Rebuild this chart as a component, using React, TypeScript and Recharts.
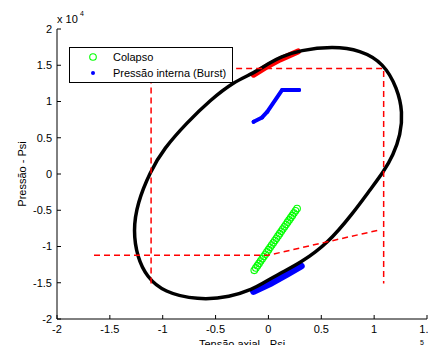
import React from "react";
import { ScatterChart, Scatter, XAxis, YAxis } from "recharts";

const FONT = '"Liberation Sans", Arial, sans-serif';

const xTicks = [-2, -1.5, -1, -0.5, 0, 0.5, 1, 1.5];
const yTicks = [-2, -1.5, -1, -0.5, 0, 0.5, 1, 1.5, 2];

// von Mises envelope (x 1e5 psi axial, x 1e4 psi pressure)
const envelope = [
  { x: -1.12, y: 0.03 }, { x: -0.99, y: 0.35 }, { x: -0.77, y: 0.71 }, { x: -0.55, y: 1.02 },
  { x: -0.33, y: 1.27 }, { x: -0.14, y: 1.39 }, { x: 0.02, y: 1.54 }, { x: 0.11, y: 1.61 },
  { x: 0.3, y: 1.71 }, { x: 0.61, y: 1.76 }, { x: 0.87, y: 1.71 }, { x: 1.09, y: 1.53 },
  { x: 1.22, y: 1.18 }, { x: 1.27, y: 0.85 }, { x: 1.25, y: 0.54 }, { x: 1.18, y: 0.26 },
  { x: 1.09, y: 0.03 }, { x: 0.96, y: -0.22 }, { x: 0.8, y: -0.54 }, { x: 0.56, y: -0.96 },
  { x: 0.3, y: -1.23 }, { x: 0.11, y: -1.37 }, { x: -0.08, y: -1.53 }, { x: -0.14, y: -1.58 },
  { x: -0.36, y: -1.7 }, { x: -0.67, y: -1.74 }, { x: -0.99, y: -1.63 }, { x: -1.15, y: -1.42 },
  { x: -1.24, y: -1.15 }, { x: -1.28, y: -0.78 }, { x: -1.24, y: -0.4 },
];

const burstTop = [
  { x: -0.14, y: 1.37 }, { x: -0.03, y: 1.47 }, { x: 0.11, y: 1.58 }, { x: 0.28, y: 1.69 },
];

const burstBottom = [
  { x: -0.14, y: -1.62 }, { x: 0.02, y: -1.51 }, { x: 0.18, y: -1.38 }, { x: 0.31, y: -1.27 },
];

const burstInternal = [
  { x: -0.14, y: 0.72 }, { x: -0.06, y: 0.78 }, { x: -0.01, y: 0.86 }, { x: 0.13, y: 1.16 },
  { x: 0.29, y: 1.16 },
];

const collapse = [
  { x: -0.134, y: -1.328 }, { x: -0.119, y: -1.296 }, { x: -0.104, y: -1.264 },
  { x: -0.089, y: -1.233 }, { x: -0.074, y: -1.201 }, { x: -0.059, y: -1.17 },
  { x: -0.044, y: -1.138 }, { x: -0.029, y: -1.107 }, { x: -0.014, y: -1.075 },
  { x: 0.001, y: -1.044 }, { x: 0.016, y: -1.012 }, { x: 0.031, y: -0.98 },
  { x: 0.046, y: -0.949 }, { x: 0.061, y: -0.917 }, { x: 0.076, y: -0.886 },
  { x: 0.091, y: -0.854 }, { x: 0.106, y: -0.823 }, { x: 0.121, y: -0.791 },
  { x: 0.136, y: -0.76 }, { x: 0.151, y: -0.728 }, { x: 0.166, y: -0.697 },
  { x: 0.181, y: -0.665 }, { x: 0.196, y: -0.634 }, { x: 0.211, y: -0.602 },
  { x: 0.226, y: -0.571 }, { x: 0.241, y: -0.539 }, { x: 0.256, y: -0.508 },
  { x: 0.271, y: -0.476 },
];

const limitBox = [
  { x: -1.11, y: -1.51 }, { x: -1.11, y: 1.455 }, { x: 1.09, y: 1.455 }, { x: 1.09, y: -1.51 },
];

const limitLow = [
  { x: -1.65, y: -1.12 }, { x: 0, y: -1.12 }, { x: 1.04, y: -0.775 },
];

const noDot = () => <g />;

const openCircle = (p: any) => (
  <circle cx={p.cx} cy={p.cy} r={3.3} fill="none" stroke="#00ff00" strokeWidth={1.1} />
);

const blueDot = (p: any) => <circle cx={p.cx} cy={p.cy} r={2} fill="#0000ff" />;

export default function App() {
  return (
    <div style={{ position: "relative", width: 428, height: 345, overflow: "hidden", background: "#fff" }}>
      <style>{`body{margin:0}`}</style>
      <ScatterChart width={428} height={345} margin={{ top: 29, right: 1, bottom: 0, left: 0 }}>
        <XAxis
          type="number"
          dataKey="x"
          domain={[-2, 1.5]}
          ticks={xTicks}
          interval={0}
          height={26}
          tickSize={-4}
          tickMargin={10}
          stroke="#000"
          tick={{ fill: "#000", fontSize: 11, fontFamily: FONT }}
          allowDataOverflow
        />
        <YAxis
          type="number"
          dataKey="y"
          domain={[-2, 2]}
          ticks={yTicks}
          interval={0}
          width={57}
          tickSize={-4}
          tickMargin={9}
          stroke="#000"
          tick={{ fill: "#000", fontSize: 11, fontFamily: FONT }}
          allowDataOverflow
        />
        <Scatter data={burstTop} isAnimationActive={false} shape={noDot}
          line={{ stroke: "#ff0000", strokeWidth: 6, strokeLinecap: "round" }} />
        <Scatter data={burstBottom} isAnimationActive={false} shape={noDot}
          line={{ stroke: "#0000ff", strokeWidth: 7, strokeLinecap: "round" }} />
        <Scatter data={envelope} isAnimationActive={false} shape={noDot} lineJointType="basisClosed"
          line={{ stroke: "#000", strokeWidth: 3.5 }} />
        <Scatter data={burstInternal} isAnimationActive={false} shape={blueDot}
          line={{ stroke: "#0000ff", strokeWidth: 4, strokeLinecap: "round", strokeLinejoin: "round" }} />
        <Scatter data={collapse} isAnimationActive={false} shape={openCircle} />
        <Scatter data={limitBox} isAnimationActive={false} shape={noDot}
          line={{ stroke: "#ff0000", strokeWidth: 1.5, strokeDasharray: "6 4" }} />
        <Scatter data={limitLow} isAnimationActive={false} shape={noDot}
          line={{ stroke: "#ff0000", strokeWidth: 1.5, strokeDasharray: "6 4" }} />
      </ScatterChart>
      <svg width={428} height={345} style={{ position: "absolute", left: 0, top: 0, pointerEvents: "none" }}>
        <g fontFamily={FONT} fill="#000">
          <text x={57} y={23} fontSize={11}>x 10</text>
          <text x={80} y={16} fontSize={7}>4</text>
          <text x={420} y={345} fontSize={7}>5</text>
          <text x={242} y={348} fontSize={11} textAnchor="middle">Tensão axial - Psi</text>
          <text x={0} y={0} fontSize={11} textAnchor="middle" transform="translate(26,174) rotate(-90)">
            Pressão - Psi
          </text>
        </g>
        <rect x={69.5} y={47.5} width={163} height={35} fill="#fff" stroke="#000" strokeWidth={1} />
        <circle cx={93} cy={57} r={3.3} fill="none" stroke="#00ff00" strokeWidth={1.1} />
        <circle cx={93} cy={73} r={2} fill="#0000ff" />
        <g fontFamily={FONT} fontSize={11} fill="#000">
          <text x={113} y={61}>Colapso</text>
          <text x={113} y={77}>Pressão interna (Burst)</text>
        </g>
      </svg>
    </div>
  );
}
